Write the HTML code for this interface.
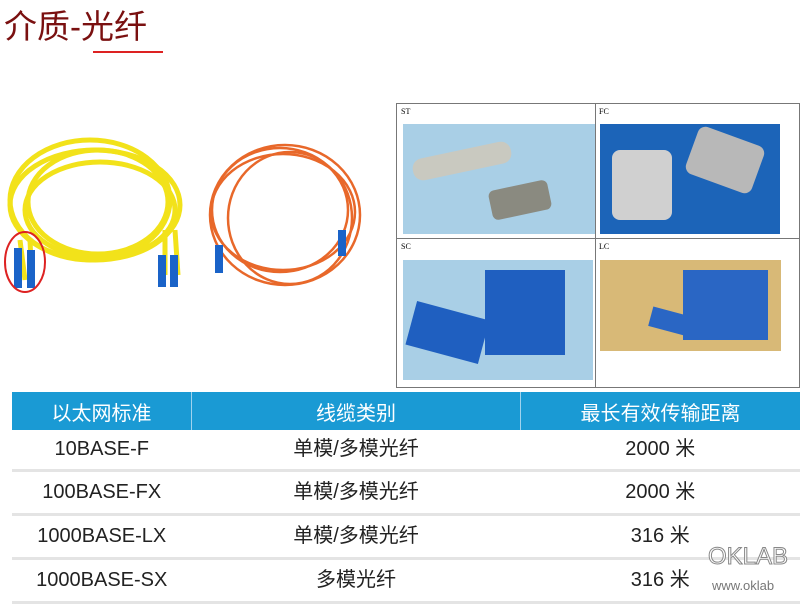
<!DOCTYPE html>
<html><head><meta charset="utf-8"><style>
body{margin:0;width:800px;height:598px;background:#fff;position:relative;overflow:hidden;font-family:"Liberation Sans","Noto Sans CJK SC",sans-serif}
.t{position:absolute;left:4px;top:0px;font-size:33px;color:#7a1010;letter-spacing:0px}
.a{position:absolute}
table{position:absolute;left:12px;top:392px;border-collapse:collapse;font-size:20px;color:#222}
td{text-align:center;padding:0;border-bottom:3px solid #e4e4e4;line-height:22px}
th{background:#1a9ad4;color:#fff;font-weight:normal;height:36px;border-right:1px solid #9fd3ee}
</style></head><body>
<div class="t">介质-光纤</div>
<div class="a" style="left:93px;top:51px;width:70px;height:2px;background:#d22"></div>
<svg class="a" style="left:0;top:130px" width="380" height="180">
<g fill="none" stroke="#f2e21a" stroke-width="5">
<ellipse cx="95" cy="75" rx="85" ry="55"/><ellipse cx="100" cy="80" rx="75" ry="48"/><ellipse cx="90" cy="70" rx="80" ry="60"/><ellipse cx="98" cy="72" rx="70" ry="52"/>
<path d="M20 110 L25 150 M30 110 L32 155 M165 100 L165 145 M175 100 L178 145"/></g>
<g fill="none" stroke="#e8682a" stroke-width="2.5">
<ellipse cx="285" cy="85" rx="75" ry="70"/><ellipse cx="280" cy="80" rx="68" ry="62"/><ellipse cx="290" cy="88" rx="62" ry="66"/><ellipse cx="283" cy="82" rx="72" ry="58"/></g>
<g fill="#1a63c8"><rect x="14" y="118" width="8" height="40"/><rect x="27" y="120" width="8" height="38"/><rect x="158" y="125" width="8" height="32"/><rect x="170" y="125" width="8" height="32"/><rect x="215" y="115" width="8" height="28"/><rect x="338" y="100" width="8" height="26"/></g>
<ellipse cx="25" cy="132" rx="20" ry="30" fill="none" stroke="#d22" stroke-width="2"/>
</svg>
<div class="a" style="left:396px;top:103px;width:402px;height:283px;border:1px solid #777"></div>
<div class="a" style="left:595px;top:103px;width:1px;height:284px;background:#777"></div>
<div class="a" style="left:396px;top:238px;width:404px;height:1px;background:#777"></div>
<div class="a" style="left:401px;top:107px;font-size:8px;font-family:'Liberation Serif',serif">ST</div>
<div class="a" style="left:599px;top:107px;font-size:8px;font-family:'Liberation Serif',serif">FC</div>
<div class="a" style="left:401px;top:242px;font-size:8px;font-family:'Liberation Serif',serif">SC</div>
<div class="a" style="left:599px;top:242px;font-size:8px;font-family:'Liberation Serif',serif">LC</div>
<div class="a" style="left:403px;top:124px;width:192px;height:110px;background:#a9cfe6"></div>
<div class="a" style="left:600px;top:124px;width:180px;height:110px;background:#1c64b8"></div>
<div class="a" style="left:403px;top:260px;width:190px;height:120px;background:#a9cfe6"></div>
<div class="a" style="left:600px;top:260px;width:181px;height:91px;background:#d8b977"></div>
<div class="a" style="left:412px;top:150px;width:100px;height:22px;background:#c9c9c0;border-radius:10px;transform:rotate(-12deg)"></div>
<div class="a" style="left:490px;top:185px;width:60px;height:30px;background:#8a8a80;border-radius:6px;transform:rotate(-12deg)"></div>
<div class="a" style="left:612px;top:150px;width:60px;height:70px;background:#d0d0d0;border-radius:8px"></div>
<div class="a" style="left:690px;top:135px;width:70px;height:50px;background:#b8b8b8;border-radius:8px;transform:rotate(20deg)"></div>
<div class="a" style="left:410px;top:310px;width:75px;height:45px;background:#1f5fc0;transform:rotate(15deg)"></div>
<div class="a" style="left:485px;top:270px;width:80px;height:85px;background:#1f5fc0"></div>
<div class="a" style="left:683px;top:270px;width:85px;height:70px;background:#2a66c4"></div>
<div class="a" style="left:650px;top:312px;width:45px;height:20px;background:#2a66c4;transform:rotate(15deg)"></div>
<table>
<tr><th style="width:178px">以太网标准</th><th style="width:330px">线缆类别</th><th style="width:280px;border-right:0">最长有效传输距离</th></tr>
<tr style="height:40px"><td>10BASE-F</td><td>单模/多模光纤</td><td>2000 米</td></tr>
<tr style="height:44px"><td>100BASE-FX</td><td>单模/多模光纤</td><td>2000 米</td></tr>
<tr style="height:44px"><td>1000BASE-LX</td><td>单模/多模光纤</td><td>316 米</td></tr>
<tr style="height:44px"><td>1000BASE-SX</td><td>多模光纤</td><td>316 米</td></tr>
</table>
<div class="a" style="left:708px;top:543px;font-size:24px;color:#fff;-webkit-text-stroke:1px #888">OKLAB</div>
<div class="a" style="left:712px;top:578px;font-size:13px;color:#777">www.oklab</div>
</body></html>
